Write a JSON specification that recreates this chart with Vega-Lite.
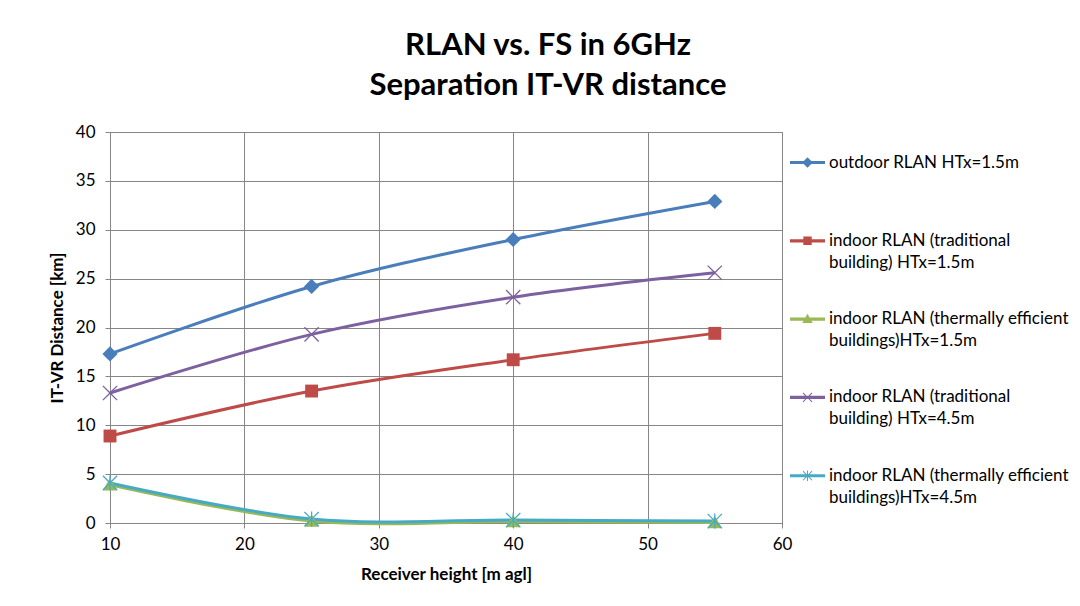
{
  "$schema": "https://vega.github.io/schema/vega-lite/v6.json",
  "width": 672,
  "height": 391,
  "autosize": {"type": "none"},
  "padding": {"left": 110, "top": 132, "right": 298, "bottom": 83},
  "background": "white",
  "title": {
    "text": ["RLAN vs. FS in 6GHz", "Separation IT-VR distance"],
    "font": "Lato", "fontSize": 31, "fontWeight": "bold", "lineHeight": 40,
    "anchor": "middle", "dx": 102, "offset": 21, "color": "black"
  },
  "config": {
    "view": {"stroke": "#868686"},
    "axis": {
      "gridColor": "#868686", "gridOpacity": 1, "gridWidth": 1,
      "domainColor": "#868686", "tickColor": "#868686", "tickSize": 5,
      "labelFont": "Lato", "labelFontSize": 17, "labelColor": "black",
      "titleFont": "Lato", "titleFontWeight": "bold", "titleFontSize": 17, "titleColor": "black"
    },
    "style": {"guide-label": {"lineHeight": 22}}
  },
  "data": {
    "values": [
      {"h": 10, "d": 17.3, "s": "outdoor RLAN HTx=1.5m"},
      {"h": 25, "d": 24.2, "s": "outdoor RLAN HTx=1.5m"},
      {"h": 40, "d": 29.0, "s": "outdoor RLAN HTx=1.5m"},
      {"h": 55, "d": 32.9, "s": "outdoor RLAN HTx=1.5m"},
      {"h": 10, "d": 8.9, "s": "indoor RLAN (traditional building) HTx=1.5m"},
      {"h": 25, "d": 13.5, "s": "indoor RLAN (traditional building) HTx=1.5m"},
      {"h": 40, "d": 16.7, "s": "indoor RLAN (traditional building) HTx=1.5m"},
      {"h": 55, "d": 19.4, "s": "indoor RLAN (traditional building) HTx=1.5m"},
      {"h": 10, "d": 3.9, "s": "indoor RLAN (thermally efficient buildings)HTx=1.5m"},
      {"h": 25, "d": 0.2, "s": "indoor RLAN (thermally efficient buildings)HTx=1.5m"},
      {"h": 40, "d": 0.15, "s": "indoor RLAN (thermally efficient buildings)HTx=1.5m"},
      {"h": 55, "d": 0.05, "s": "indoor RLAN (thermally efficient buildings)HTx=1.5m"},
      {"h": 10, "d": 13.3, "s": "indoor RLAN (traditional building) HTx=4.5m"},
      {"h": 25, "d": 19.3, "s": "indoor RLAN (traditional building) HTx=4.5m"},
      {"h": 40, "d": 23.1, "s": "indoor RLAN (traditional building) HTx=4.5m"},
      {"h": 55, "d": 25.6, "s": "indoor RLAN (traditional building) HTx=4.5m"},
      {"h": 10, "d": 4.1, "s": "indoor RLAN (thermally efficient buildings)HTx=4.5m"},
      {"h": 25, "d": 0.4, "s": "indoor RLAN (thermally efficient buildings)HTx=4.5m"},
      {"h": 40, "d": 0.3, "s": "indoor RLAN (thermally efficient buildings)HTx=4.5m"},
      {"h": 55, "d": 0.2, "s": "indoor RLAN (thermally efficient buildings)HTx=4.5m"}
    ]
  },
  "layer": [
    {
      "mark": {"type": "line", "interpolate": "cardinal", "strokeWidth": 3},
      "encoding": {
        "x": {"field": "h", "type": "quantitative", "scale": {"domain": [10, 60], "nice": false, "zero": false},
              "axis": {"values": [10, 20, 30, 40, 50, 60], "title": "Receiver height [m agl]", "labelPadding": 8, "titlePadding": 14, "labelFlush": false}},
        "y": {"field": "d", "type": "quantitative", "scale": {"domain": [0, 40], "nice": false},
              "axis": {"values": [0, 5, 10, 15, 20, 25, 30, 35, 40], "title": "IT-VR Distance [km]", "labelPadding": 10, "titlePadding": 9}},
        "color": {"field": "s", "type": "nominal", "legend": null,
                  "scale": {"domain": ["outdoor RLAN HTx=1.5m", "indoor RLAN (traditional building) HTx=1.5m", "indoor RLAN (thermally efficient buildings)HTx=1.5m", "indoor RLAN (traditional building) HTx=4.5m", "indoor RLAN (thermally efficient buildings)HTx=4.5m"],
                            "range": ["#4A7EBB", "#BE4B48", "#98B954", "#7D60A0", "#46AAC5"]}}
      }
    },
    {
      "mark": {"type": "point", "filled": true, "size": 230, "opacity": 1},
      "encoding": {
        "x": {"field": "h", "type": "quantitative"},
        "y": {"field": "d", "type": "quantitative"},
        "color": {"field": "s", "type": "nominal", "legend": null,
                  "scale": {"domain": ["outdoor RLAN HTx=1.5m", "indoor RLAN (traditional building) HTx=1.5m", "indoor RLAN (thermally efficient buildings)HTx=1.5m", "indoor RLAN (traditional building) HTx=4.5m", "indoor RLAN (thermally efficient buildings)HTx=4.5m"],
                            "range": ["#4A7EBB", "#BE4B48", "#98B954", "#7D60A0", "#46AAC5"]}},
        "shape": {"field": "s", "type": "nominal", "legend": null,
                  "scale": {"domain": ["outdoor RLAN HTx=1.5m", "indoor RLAN (traditional building) HTx=1.5m", "indoor RLAN (thermally efficient buildings)HTx=1.5m", "indoor RLAN (traditional building) HTx=4.5m", "indoor RLAN (thermally efficient buildings)HTx=4.5m"],
                            "range": [
                              "M0,-1L1,0L0,1L-1,0Z",
                              "M-0.85,-0.85H0.85V0.85H-0.85Z",
                              "M0,-0.9L0.95,0.75H-0.95Z",
                              "M-1,-0.88L-0.88,-1L0,-0.12L0.88,-1L1,-0.88L0.12,0L1,0.88L0.88,1L0,0.12L-0.88,1L-1,0.88L-0.12,0Z",
                              "M-1,-0.88L-0.88,-1L0,-0.12L0.88,-1L1,-0.88L0.12,0L1,0.88L0.88,1L0,0.12L-0.88,1L-1,0.88L-0.12,0Z M-0.08,-1H0.08V1H-0.08Z"
                            ]}}
      }
    },
    {
      "transform": [{"filter": "datum.h > 1000"}],
      "mark": {"type": "point", "filled": true, "size": 1225, "opacity": 1},
      "encoding": {
        "x": {"field": "h", "type": "quantitative"},
        "y": {"field": "d", "type": "quantitative"},
        "color": {"field": "s", "type": "nominal",
                  "scale": {"domain": ["outdoor RLAN HTx=1.5m", "indoor RLAN (traditional building) HTx=1.5m", "indoor RLAN (thermally efficient buildings)HTx=1.5m", "indoor RLAN (traditional building) HTx=4.5m", "indoor RLAN (thermally efficient buildings)HTx=4.5m"],
                            "range": ["#4A7EBB", "#BE4B48", "#98B954", "#7D60A0", "#46AAC5"]},
                  "legend": {"title": null, "orient": "none", "legendX": 680, "legendY": 13, "padding": 0,
                             "symbolSize": 1225, "symbolStrokeWidth": 0, "symbolOpacity": 1,
                             "labelFont": "Lato", "labelFontSize": 17, "labelColor": "black", "labelLimit": 400, "labelOffset": 4,
                             "labelBaseline": "middle", "rowPadding": 30.3,
                             "labelExpr": "datum.label == 'outdoor RLAN HTx=1.5m' ? [datum.label, ' '] : split(replace(replace(datum.label, 'traditional ', 'traditional|'), 'efficient ', 'efficient|'), '|')"}},
        "shape": {"field": "s", "type": "nominal",
                  "scale": {"domain": ["outdoor RLAN HTx=1.5m", "indoor RLAN (traditional building) HTx=1.5m", "indoor RLAN (thermally efficient buildings)HTx=1.5m", "indoor RLAN (traditional building) HTx=4.5m", "indoor RLAN (thermally efficient buildings)HTx=4.5m"],
                            "range": [
                              "M-1,-0.09H1V0.09H-1Z M0,-0.3L0.3,0L0,0.3L-0.3,0Z",
                              "M-1,-0.09H1V0.09H-1Z M-0.24,-0.24H0.24V0.24H-0.24Z",
                              "M-1,-0.09H1V0.09H-1Z M0,-0.3L0.3,0.22H-0.3Z",
                              "M-1,-0.09H1V0.09H-1Z M-0.28,-0.24L-0.24,-0.28L0,-0.04L0.24,-0.28L0.28,-0.24L0.04,0L0.28,0.24L0.24,0.28L0,0.04L-0.24,0.28L-0.28,0.24L-0.04,0Z",
                              "M-1,-0.09H1V0.09H-1Z M-0.28,-0.24L-0.24,-0.28L0,-0.04L0.24,-0.28L0.28,-0.24L0.04,0L0.28,0.24L0.24,0.28L0,0.04L-0.24,0.28L-0.28,0.24L-0.04,0Z M-0.03,-0.3H0.03V0.3H-0.03Z"
                            ]}}
      }
    }
  ],
  "resolve": {"scale": {"shape": "independent", "color": "independent"}}
}
